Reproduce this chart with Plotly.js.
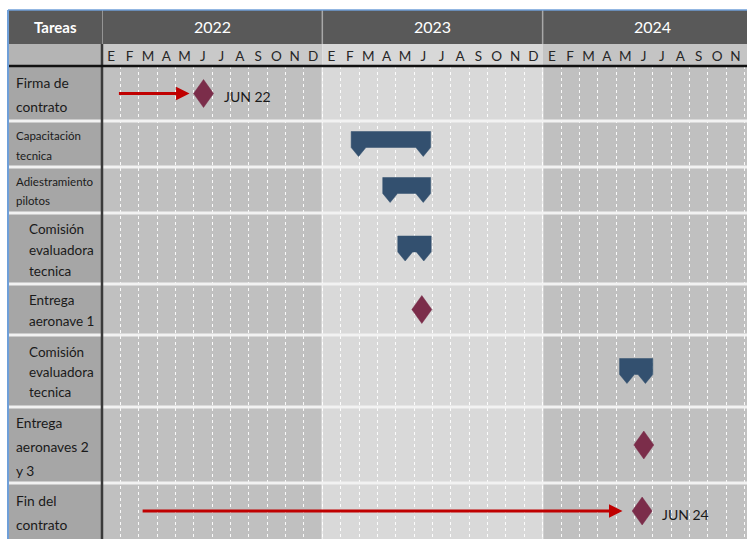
<!DOCTYPE html>
<html>
<head>
<meta charset="utf-8">
<script src="https://cdn.plot.ly/plotly-3.0.1.min.js"></script>
<style>
  html, body { margin: 0; padding: 0; background: #ffffff; }
  #chart { width: 747px; height: 539px; }
</style>
</head>
<body>
<div id="chart"></div>
<script>
// Gantt data, months counted from the start of January 2022
const years = ['2022', '2023', '2024'];
const monthLetters = ['E', 'F', 'M', 'A', 'M', 'J', 'J', 'A', 'S', 'O', 'N', 'D'];
const rowLabels = [
    'Firma de<br>contrato',
    'Capacitación<br>tecnica',
    'Adiestramiento<br>pilotos',
    'Comisión<br>evaluadora<br>tecnica',
    'Entrega<br>aeronave 1',
    'Comisión<br>evaluadora<br>tecnica',
    'Entrega<br>aeronaves 2<br>y 3',
    'Fin del<br>contrato'
];

const barRows = [1, 2, 3, 5];
const barStart = [13.57, 15.29, 16.11, 28.19];
const barEnd = [17.9, 17.9, 17.93, 30.0];

const milestoneRows = [0, 4, 6, 7];
const milestoneAt = [5.53, 17.42, 29.51, 29.42];

const arrowRows = [0, 7];
const arrowFrom = [0.84, 2.13];
const arrowTo = [4.77, 28.35];

const tagRows = [0, 7];
const tagAt = [5.53, 29.42];
const tagText = ['JUN 22', 'JUN 24'];

// layout constants (pixels)
const W = 747, H = 539, L = 102, T = 66;
const MONTH_PX = 18.36;
const rowHeights = [55, 46, 46, 71, 51, 72, 76, 56];
const labelIndent = [14, 14, 14, 27, 27, 27, 14, 14];
const labelSize = [13.8, 11.5, 11.5, 13.5, 13.5, 13.5, 13.8, 13.8];
const labelGap = [24, 20, 19, 21, 21, 20, 24, 24];

const FONT = 'Lato, "Open Sans", sans-serif';
const plotH = H - T;
const px2x = px => (px - L) / (W - L);
const py2y = py => (H - py) / plotH;

const rowEdges = [0];
rowHeights.forEach(h => rowEdges.push(rowEdges[rowEdges.length - 1] + h));
const rowCenter = i => (rowEdges[i] + rowEdges[i + 1]) / 2;

// notched bars
const hw = 7.4 / MONTH_PX;
const barX = [], barY = [];
barRows.forEach((r, i) => {
    const c = rowCenter(r), x0 = barStart[i], x1 = barEnd[i];
    const top = c - 12.5, rb = c + 3.5, tip = c + 12.5;
    barX.push(x0, x1, x1, x1 - hw, x1 - 2 * hw, x0 + 2 * hw, x0 + hw, x0, x0, null);
    barY.push(top, top, rb, tip, rb, rb, tip, rb, top, null);
});

// milestone diamonds
const dw = 10 / MONTH_PX, dh = 14;
const diaX = [], diaY = [];
milestoneRows.forEach((r, i) => {
    const c = rowCenter(r), x = milestoneAt[i];
    diaX.push(x, x + dw, x, x - dw, x, null);
    diaY.push(c - dh, c, c + dh, c, c - dh, null);
});

const bars = {
    x: barX, y: barY, type: 'scatter', mode: 'lines', fill: 'toself',
    fillcolor: '#33506f', line: { color: '#33506f', width: 0.5 }, hoverinfo: 'skip'
};
const diamonds = {
    x: diaX, y: diaY, type: 'scatter', mode: 'lines', fill: 'toself',
    fillcolor: '#7b2d4a', line: { color: '#7b2d4a', width: 0.5 }, hoverinfo: 'skip'
};

const shapes = [];
const annotations = [];

// header band
shapes.push({ type: 'rect', xref: 'paper', yref: 'paper', layer: 'below',
    x0: px2x(8), x1: 1, y0: py2y(44), y1: py2y(10), fillcolor: '#595959', line: { width: 0 } });
// month row label cell
shapes.push({ type: 'rect', xref: 'paper', yref: 'paper', layer: 'below',
    x0: px2x(8), x1: 0, y0: 1, y1: py2y(44), fillcolor: '#b4b4b4', line: { width: 0 } });
// label column
shapes.push({ type: 'rect', xref: 'paper', yref: 'paper', layer: 'below',
    x0: px2x(8), x1: 0, y0: 0, y1: 1, fillcolor: '#a6a6a6', line: { width: 0 } });

const monthFill = ['#c9c9c9', '#d8d8d8', '#c4c4c4'];
const bodyFill = ['#c0c0c0', '#d9d9d9', '#c0c0c0'];
years.forEach((yr, i) => {
    shapes.push({ type: 'rect', xref: 'x', yref: 'paper', layer: 'below',
        x0: i * 12, x1: i * 12 + 12, y0: 1, y1: py2y(44), fillcolor: monthFill[i], line: { width: 0 } });
    shapes.push({ type: 'rect', xref: 'x', yref: 'paper', layer: 'below',
        x0: i * 12, x1: i * 12 + 12, y0: 0, y1: 1, fillcolor: bodyFill[i], line: { width: 0 } });
    // separator inside the header
    shapes.push({ type: 'line', xref: 'x', yref: 'paper',
        x0: i * 12, x1: i * 12, y0: py2y(44), y1: py2y(10), line: { color: '#a8a8a8', width: 1.5 } });
    if (i > 0) {
        shapes.push({ type: 'line', xref: 'x', yref: 'paper', layer: 'below',
            x0: i * 12, x1: i * 12, y0: 0, y1: 1, line: { color: '#eeeeee', width: 1.5 } });
    }
    annotations.push({ xref: 'x', yref: 'paper', x: i * 12 + 6, y: py2y(27), text: yr,
        xanchor: 'center', yanchor: 'middle',
        showarrow: false, font: { family: FONT, size: 16, color: '#ffffff' } });
});

// row separators
rowEdges.slice(1, -1).forEach(e => {
    shapes.push({ type: 'line', xref: 'paper', yref: 'y', x0: px2x(8), x1: 1, y0: e, y1: e,
        line: { color: '#f2f2f2', width: 3 } });
});

// dark separator after the label column, black rule under the months
shapes.push({ type: 'line', xref: 'paper', yref: 'paper', x0: 0, x1: 0, y0: 0, y1: py2y(44),
    line: { color: '#3a3a3a', width: 2.5 } });
shapes.push({ type: 'line', xref: 'paper', yref: 'paper', x0: px2x(8), x1: 1, y0: 1, y1: 1,
    line: { color: '#111111', width: 2.5 } });
// blue frame edges
shapes.push({ type: 'line', xref: 'paper', yref: 'paper', x0: px2x(8), x1: px2x(8), y0: 0, y1: py2y(10),
    line: { color: '#6f9fd8', width: 2 } });
shapes.push({ type: 'line', xref: 'paper', yref: 'paper', x0: px2x(8), x1: 1, y0: py2y(10), y1: py2y(10),
    line: { color: '#6f9fd8', width: 1.5 } });

annotations.push({ xref: 'paper', yref: 'paper', x: px2x(55), y: py2y(27), text: '<b>Tareas</b>',
    xanchor: 'center', yanchor: 'middle',
    showarrow: false, font: { family: FONT, size: 15, color: '#ffffff' } });

// row labels, one annotation per line
rowLabels.forEach((lab, i) => {
    const lines = lab.split('<br>');
    const c = rowCenter(i);
    lines.forEach((ln, k) => {
        const off = (k - (lines.length - 1) / 2) * labelGap[i];
        annotations.push({ xref: 'paper', yref: 'y', x: px2x(labelIndent[i]), y: c + off + 1,
            xanchor: 'left', yanchor: 'middle', text: ln, showarrow: false,
            font: { family: FONT, size: labelSize[i], color: '#1a1a1a' } });
    });
});

// red arrows
arrowRows.forEach((r, i) => {
    annotations.push({ xref: 'x', yref: 'y', axref: 'x', ayref: 'y',
        x: arrowTo[i], y: rowCenter(r), ax: arrowFrom[i], ay: rowCenter(r),
        text: '', showarrow: true, arrowhead: 2, arrowsize: 0.9, arrowwidth: 3, arrowcolor: '#c00000' });
});

// milestone tags
tagRows.forEach((r, i) => {
    annotations.push({ xref: 'x', yref: 'y', x: tagAt[i], y: rowCenter(r) + 3, xanchor: 'left',
        xshift: 18, text: tagText[i], showarrow: false,
        font: { family: FONT, size: 14, color: '#1a1a1a' } });
});

const tickVals = [], tickText = [];
years.forEach((yr, i) => monthLetters.forEach((m, k) => {
    tickVals.push(i * 12 + k + 0.5);
    tickText.push(m);
}));

const layout = {
    width: W, height: H,
    margin: { l: L, r: 0, t: T, b: 0 },
    paper_bgcolor: '#ffffff',
    plot_bgcolor: 'rgba(0,0,0,0)',
    showlegend: false,
    xaxis: {
        range: [0, (W - L) / MONTH_PX],
        side: 'top',
        tickmode: 'array', tickvals: tickVals, ticktext: tickText,
        ticks: '', showgrid: false, zeroline: false, showline: false,
        tickfont: { family: FONT, size: 13.5, color: '#262626' },
        ticklabelstandoff: 1,
        minor: { tick0: 0, dtick: 1, showgrid: true, gridcolor: 'rgba(255,255,255,0.9)',
            griddash: 'dot', gridwidth: 1, ticks: '' },
        fixedrange: true
    },
    yaxis: {
        range: [rowEdges[rowEdges.length - 1], 0],
        showgrid: false, zeroline: false, showticklabels: false, ticks: '',
        fixedrange: true
    },
    shapes: shapes,
    annotations: annotations
};

Plotly.newPlot('chart', [bars, diamonds], layout, { displayModeBar: false, staticPlot: true });
</script>
</body>
</html>
